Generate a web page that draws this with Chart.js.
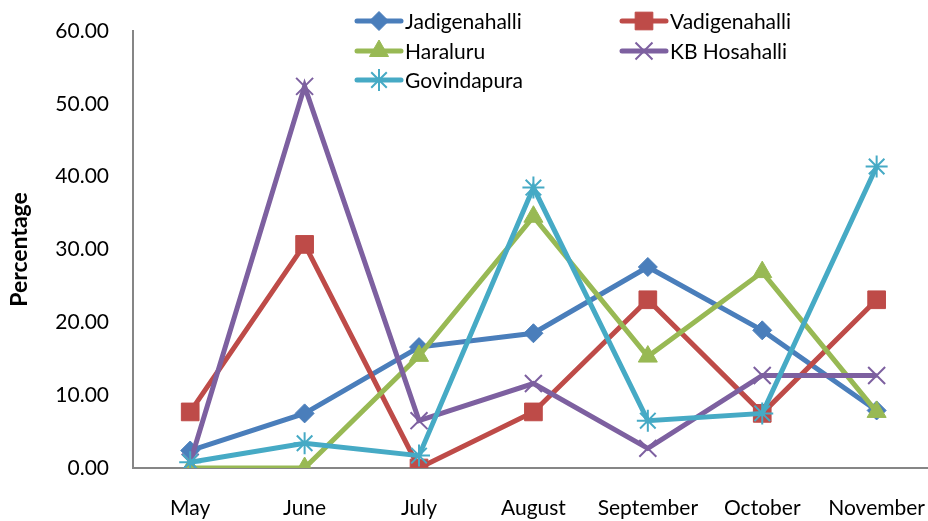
<!DOCTYPE html>
<html>
<head>
<meta charset="utf-8">
<script src="https://cdn.jsdelivr.net/npm/chart.js@4/dist/chart.umd.min.js"></script>
<style>
  html, body { margin: 0; padding: 0; background: #fff; overflow: hidden; }
  #wrap { width: 954px; height: 521px; }
</style>
</head>
<body>
<div id="wrap"><canvas id="villageChart" width="954" height="521"></canvas></div>
<script>
'use strict';

// months on the x axis
const months = ['May', 'June', 'July', 'August', 'September', 'October', 'November'];

// percentage per village
const jadigenahalli = [2.4, 7.5, 16.6, 18.5, 27.6, 18.9, 7.9];
const vadigenahalli = [7.7, 30.7, 0, 7.7, 23.1, 7.5, 23.1];
const haraluru = [0, 0, 15.4, 34.5, 15.3, 26.9, 7.7];
const kbHosahalli = [0.8, 52.4, 6.5, 11.6, 2.7, 12.7, 12.7];
const govindapura = [0.8, 3.4, 1.7, 38.5, 6.5, 7.5, 41.4];

const yTicks = [0, 10, 20, 30, 40, 50, 60];

const FONT = 'Lato, "Open Sans", sans-serif';

let ctx = document.getElementById('villageChart').getContext('2d');

function series (label, data, color, style, radius, bw, order) {
  return {
    label: label,
    data: data,
    borderColor: color,
    backgroundColor: color,
    borderWidth: 5,
    pointStyle: style,
    pointRadius: radius,
    pointHoverRadius: radius,
    pointBackgroundColor: color,
    pointBorderColor: color,
    pointBorderWidth: bw,
    tension: 0,
    order: order
  };
}

let datasets = [
  series('Jadigenahalli', jadigenahalli, '#4A7EBB', 'rectRot', 9.5, 1, 5),
  series('Vadigenahalli', vadigenahalli, '#BE4B48', 'rect', 12.5, 1, 4),
  series('Haraluru', haraluru, '#98B954', 'triangle', 11, 1, 3),
  series('KB Hosahalli', kbHosahalli, '#7D60A0', 'crossRot', 12, 2, 2),
  series('Govindapura', govindapura, '#46AAC5', 'star', 11, 2, 1)
];

// two column legend like the original, drawn on the canvas
const legendSpots = [
  [357, 21], [622, 21],
  [357, 51], [622, 51],
  [357, 80]
];

const legendPlugin = {
  id: 'twoColLegend',
  afterDraw (chart) {
    let c = chart.ctx;
    c.save();
    chart.data.datasets.forEach((ds, i) => {
      let [x, y] = legendSpots[i];
      c.strokeStyle = ds.borderColor;
      c.lineWidth = 5;
      c.lineCap = 'round';
      c.beginPath();
      c.moveTo(x, y);
      c.lineTo(x + 44, y);
      c.stroke();
      c.fillStyle = ds.backgroundColor;
      c.lineWidth = ds.pointBorderWidth;
      c.lineCap = 'butt';
      Chart.helpers.drawPoint(c, {
        pointStyle: ds.pointStyle,
        radius: ds.pointRadius,
        rotation: 0,
        borderWidth: ds.pointBorderWidth
      }, x + 22, y);
      c.fillStyle = '#000';
      c.font = '21px ' + FONT;
      c.textBaseline = 'middle';
      c.textAlign = 'left';
      c.fillText(ds.label, x + 48, y + 1);
    });
    c.restore();
  }
};

let chart = new Chart(ctx, {
  type: 'line',
  data: {
    labels: months,
    datasets: datasets
  },
  options: {
    responsive: false,
    animation: false,
    layout: { padding: { top: 31, right: 8, bottom: 0, left: 0 } },
    plugins: {
      legend: { display: false },
      tooltip: { enabled: false }
    },
    scales: {
      x: {
        offset: true,
        grid: { display: false, drawTicks: false },
        border: { display: true, color: '#868686', width: 2 },
        ticks: {
          color: '#000',
          font: { family: FONT, size: 21 },
          padding: 28,
          maxRotation: 0,
          autoSkip: false
        },
        afterFit: s => { s.height = 53; }
      },
      y: {
        min: 0,
        max: 60,
        afterBuildTicks: s => { s.ticks = yTicks.map(v => ({ value: v })); },
        grid: { display: false, drawTicks: false },
        border: { display: true, color: '#868686', width: 2 },
        ticks: {
          color: '#000',
          font: { family: FONT, size: 21 },
          padding: 24,
          callback: v => v.toFixed(2)
        },
        title: {
          display: true,
          text: 'Percentage',
          color: '#000',
          font: { family: FONT, size: 23, weight: 'bold' },
          padding: { top: 6, bottom: 0 }
        },
        afterFit: s => {
          s.width = 133;
          s.paddingTop = 0;
          s.paddingBottom = 0;
        }
      }
    }
  },
  plugins: [legendPlugin]
});
</script>
</body>
</html>
